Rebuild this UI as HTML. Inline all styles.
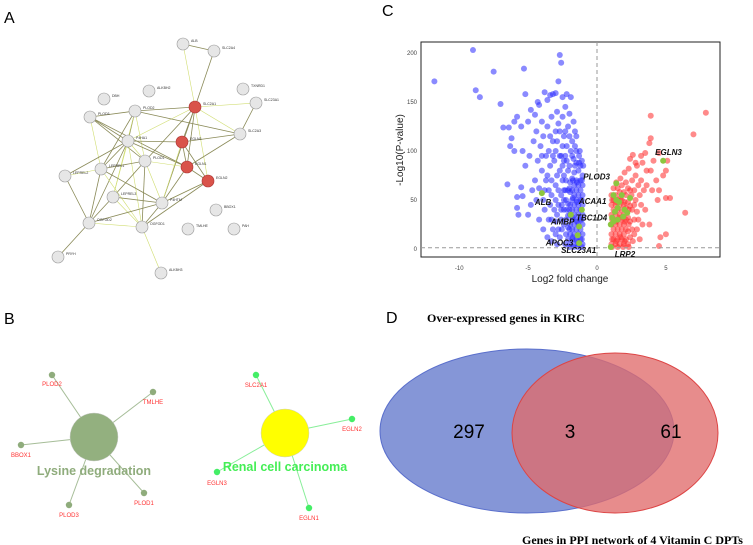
<!DOCTYPE html>
<html><head><meta charset="utf-8">
<style>
html,body{margin:0;padding:0;background:#fff;}
svg{display:block;font-family:"Liberation Sans",sans-serif;}
</style></head>
<body>
<svg id="fig" width="753" height="545" viewBox="0 0 753 545">
<rect width="753" height="545" fill="#fff"/>
<text x="4" y="23" font-size="16">A</text>
<text x="4" y="324" font-size="16">B</text>
<text x="382" y="16" font-size="16">C</text>
<text x="386" y="323" font-size="16">D</text>
<g id="net"></g>
<g id="enrich"></g>
<g id="volcano"></g>
<g id="venn">
  <ellipse cx="527" cy="431" rx="147" ry="82" fill="#7084d0" fill-opacity="0.85" stroke="#5a6fcc"/>
  <ellipse cx="615" cy="433" rx="103" ry="80" fill="#e06b6b" fill-opacity="0.78" stroke="#d44"/>
  <text x="469" y="438" font-size="19" text-anchor="middle">297</text>
  <text x="570" y="438" font-size="19" text-anchor="middle">3</text>
  <text x="671" y="438" font-size="19" text-anchor="middle">61</text>
  <text x="427" y="322" font-size="12" font-weight="bold" font-family="Liberation Serif,serif">Over-expressed genes in KIRC</text>
  <text x="522" y="544" font-size="12" font-weight="bold" font-family="Liberation Serif,serif">Genes in PPI network of 4 Vitamin C DPTs</text>
</g>
</svg>
<script>
const NS="http://www.w3.org/2000/svg";
function mk(tag,attrs,parent){const e=document.createElementNS(NS,tag);for(const k in attrs)e.setAttribute(k,attrs[k]);parent.appendChild(e);return e;}

/* ---------- Panel A: PPI network ---------- */
const netNodes=[
["ALB",183,44,0],["SLC2A4",214,51,0],["TXNRD1",243,89,0],["SLC23A1",256,103,0],["DBH",104,99,0],["ALKBH2",149,91,0],
["PLOD2",135,111,0],["PLOD3",90,117,0],["SLC2A1",195,107,1],["SLC2A3",240,134,0],["P4HA1",128,141,0],["EGLN3",182,142,1],
["PLOD1",145,161,0],["EGLN1",187,167,1],["EGLN2",208,181,1],["LEPREL2",65,176,0],["LEPREL1",101,169,0],["LEPREL3",113,197,0],
["P4HTM",162,203,0],["BBOX1",216,210,0],["OGFOD2",89,223,0],["OGFOD1",142,227,0],["TMLHE",188,229,0],["PAH",234,229,0],
["PRYH",58,257,0],["ALKBH3",161,273,0]];
const netEdges=[["ALB","SLC2A1"],["ALB","SLC2A4"],["SLC2A4","SLC2A1"],["SLC2A1","SLC23A1"],["SLC23A1","SLC2A3"],["SLC2A1","PLOD2"],
["SLC2A1","P4HA1"],["SLC2A1","EGLN3"],["SLC2A1","EGLN1"],["SLC2A1","EGLN2"],["SLC2A1","PLOD1"],["SLC2A1","P4HTM"],["SLC2A1","SLC2A3"],
["PLOD2","PLOD3"],["PLOD2","P4HA1"],["PLOD2","PLOD1"],["PLOD2","SLC2A3"],["PLOD2","LEPREL1"],["PLOD2","LEPREL3"],["PLOD3","P4HA1"],
["PLOD3","PLOD1"],["PLOD3","LEPREL1"],["PLOD3","EGLN1"],["P4HA1","EGLN3"],["P4HA1","PLOD1"],["P4HA1","LEPREL2"],["P4HA1","LEPREL1"],
["P4HA1","LEPREL3"],["P4HA1","OGFOD2"],["P4HA1","EGLN1"],["P4HA1","OGFOD1"],["EGLN3","EGLN1"],["EGLN3","EGLN2"],["EGLN3","P4HTM"],
["EGLN3","SLC2A3"],["EGLN1","EGLN2"],["EGLN1","PLOD1"],["EGLN1","SLC2A3"],["EGLN1","P4HTM"],["EGLN2","P4HTM"],["EGLN2","OGFOD1"],
["PLOD1","LEPREL1"],["PLOD1","P4HTM"],["PLOD1","OGFOD1"],["PLOD1","LEPREL3"],["LEPREL2","LEPREL1"],["LEPREL2","OGFOD2"],
["LEPREL1","OGFOD2"],["LEPREL1","OGFOD1"],["LEPREL1","P4HTM"],["LEPREL3","OGFOD2"],["LEPREL3","OGFOD1"],["LEPREL3","P4HTM"],
["OGFOD2","P4HTM"],["OGFOD2","OGFOD1"],["OGFOD2","PRYH"],["OGFOD1","P4HTM"],["OGFOD1","ALKBH3"],["P4HTM","EGLN2"]];
const netG=document.getElementById('net');
const nodeMap={};netNodes.forEach(n=>nodeMap[n[0]]=n);
netEdges.forEach((e,i)=>{const a=nodeMap[e[0]],b=nodeMap[e[1]];
 const l=mk('line',{x1:a[1],y1:a[2],x2:b[1],y2:b[2],stroke:i%3===0?'#d0dd70':'#8a8a58','stroke-width':i%3===0?0.6:0.8},netG);
 
 });
netNodes.forEach(n=>{
 const c=mk('circle',{cx:n[1],cy:n[2],r:6,fill:n[3]?'#d9534a':'#e6e6e6',stroke:n[3]?'#a33':'#999','stroke-width':0.6},netG);
 
 
 const t=mk('text',{x:n[1]+8,y:n[2]-2,'font-size':3.5,fill:'#333'},netG);t.textContent=n[0];
 
 });

/* ---------- Panel B: enrichment networks ---------- */
const enrG=document.getElementById('enrich');
const hubs=[["Lysine degradation",94,437,'#93b07f','#8fac7c',94,475],["Renal cell carcinoma",285,433,'#ffff00','#44ee55',285,471]];
const leaves=[[0,"PLOD2",52,375,52,386],[0,"TMLHE",153,392,153,404],[0,"BBOX1",21,445,21,457],[0,"PLOD3",69,505,69,517],[0,"PLOD1",144,493,144,505],
[1,"SLC2A1",256,375,256,387],[1,"EGLN2",352,419,352,431],[1,"EGLN3",217,472,217,485],[1,"EGLN1",309,508,309,520]];
leaves.forEach(l=>{const h=hubs[l[0]];
 const ln=mk('line',{x1:h[1],y1:h[2],x2:l[2],y2:l[3],stroke:l[0]?'#88ee99':'#a6bd98','stroke-width':1},enrG);
 
 });
hubs.forEach(h=>{const c=mk('circle',{cx:h[1],cy:h[2],r:24,fill:h[3],stroke:'#ccc','stroke-width':0.5},enrG);
 
 });
leaves.forEach(l=>{const c=mk('circle',{cx:l[2],cy:l[3],r:3.2,fill:l[0]?'#44ee66':'#8fac7c'},enrG);
 
 
 const t=mk('text',{x:l[4],y:l[5],'font-size':6,fill:'#ff3333','text-anchor':'middle'},enrG);t.textContent=l[1];
 
 });
hubs.forEach(h=>{const t=mk('text',{x:h[5],y:h[6],'font-size':12.5,'font-weight':'bold',fill:h[4],'text-anchor':'middle'},enrG);t.textContent=h[0];
 
 });

/* ---------- Panel C: volcano ---------- */
const xTicks=[-10,-5,0,5];
const yTicks=[0,50,100,150,200];
const bluePoints=[[-11.8,171],[-9,203],[-8.8,162],[-8.5,155],[-7.5,181],[-7,148],[-6.8,124],[-6.4,124],[-6.2,113],[-6,130],[-6,100],[-5.8,135],[-5.5,125],[-5.3,184],[-5.2,158],[-5.2,85],[-5.5,63],[-6.5,66],[-5.8,53],[-5.8,42],[-5.7,35],[-5.4,54],[-5,130],[-4.8,142],[-4.5,137],[-4.3,150],[-4.2,147],[-4,130],[-3.8,160],[-3.6,152],[-3.4,157],[-3.2,158],[-3,159],[-2.8,171],[-2.7,198],[-2.6,190],[-2.5,155],[-2.2,158],[-1.9,155],[-1.6,120],[-4.6,110],[-4.9,95],[-5.4,100],[-6.3,105],[-4.3,90],[-4,80],[-4.5,70],[-3.8,60],[-3.5,100],[-3.2,110],[-3,120],[-2.8,128],[-2.5,135],[-2.4,115],[-2.1,125],[-1.8,110],[-1.5,100],[-4.8,45],[-4.4,50],[-3.5,30],[-3.8,40],[-3.2,20],[-3,15],[-2.8,45],[-3.6,75],[-3.1,90],[-2.6,95],[-2.2,105],[-1.8,95],[-4.1,105],[-3.9,115],[-3.3,135],[-2.9,140],[-2.3,145],[-2,138],[-1.7,130],[-3.4,85],[-3.7,95],[-4.2,62],[-3.3,55],[-3.0,65],[-2.7,80],[-2.5,70],[-2.4,25],[-2.7,12],[-3.4,45],[-2.9,35],[-2.6,55],
[-4.4,120],[-4.0,95],[-3.6,125],[-3.4,115],[-3.2,95],[-3.0,100],[-2.9,110],[-2.7,120],[-2.5,105],[-2.3,120],[-2.2,90],[-2.0,115],[-1.9,100],[-1.7,92],[-1.5,115],[-3.9,50],[-3.7,70],[-3.5,60],[-3.3,70],[-3.1,40],[-3.0,50],[-2.9,75],[-2.8,60],[-2.7,95],[-2.6,30],[-2.5,85],[-2.4,50],[-2.3,95],[-3.3,30],[-3.0,28],[-2.8,20],[-4.7,60],[-5.0,35],[-4.2,30],[-3.9,20],[-3.6,12],[-3.3,8],[-2.9,5],[-2.6,40],[-2.4,75],[-2.2,40],
[-1.05,5],[-1.05,15],[-1.05,25],[-1.05,35],[-1.05,45],[-1.05,55],[-1.05,65],[-1.05,75],[-1.2,10],[-1.2,20],[-1.2,30],[-1.2,40],[-1.2,50],[-1.2,60],[-1.2,70],[-1.2,85],[-1.35,5],[-1.35,15],[-1.35,25],[-1.35,35],[-1.35,45],[-1.35,55],[-1.35,65],[-1.35,80],[-1.5,10],[-1.5,20],[-1.5,30],[-1.5,40],[-1.5,50],[-1.5,60],[-1.5,70],[-1.5,88],[-1.65,5],[-1.65,15],[-1.65,25],[-1.65,35],[-1.65,45],[-1.65,55],[-1.65,65],[-1.65,78],[-1.8,10],[-1.8,20],[-1.8,30],[-1.8,40],[-1.8,50],[-1.8,60],[-1.8,72],[-1.95,5],[-1.95,15],[-1.95,25],[-1.95,35],[-1.95,45],[-1.95,58],[-1.95,68],[-2.1,10],[-2.1,22],[-2.1,34],[-2.1,46],[-2.1,60],[-2.1,80],[-2.25,15],[-2.25,30],[-2.25,50],[-2.25,70],[-2.4,40],[-2.4,60],[-2.4,90],[-2.55,20],[-2.55,45],[-1.1,90],[-1.3,95],[-1.1,2],[-1.4,2],[-1.7,2],[-2.0,2],[-1.25,100],[-1.6,105],[-2.0,85],
[-1.1,10],[-1.1,30],[-1.1,50],[-1.1,70],[-1.45,8],[-1.45,28],[-1.45,48],[-1.45,68],[-1.75,12],[-1.75,32],[-1.75,52],[-1.75,70],[-2.0,20],[-2.0,40],[-2.0,62],[-2.3,5],[-2.3,60],[-1.3,88],[-1.6,85],[-1.0,85]];
const redPoints=[[7.9,139],[7,117],[3.9,136],[3.9,113],[3.8,108],[3.5,98],[3.2,95],[2.6,96],[2.4,92],[4.5,98],[5.1,90],[5,80],[4.8,75],[4.3,70],[4.5,60],[4.4,50],[5,52],[5.3,52],[6.4,37],[4.6,12],[5,15],[4.5,3],[3.6,80],[3.2,70],[4,60],[2.9,85],[3.5,40],[3,30],[2.8,75],[3.1,55],[2.7,45],[3.3,88],[2.9,20],[3.8,25],
[3.4,60],[3.0,65],[2.8,50],[3.2,45],[2.9,38],[2.7,15],[3.1,10],[2.8,88],[3.6,65],[3.9,80],[4.1,90],[3.3,25],
[1.05,5],[1.05,15],[1.05,25],[1.05,35],[1.05,45],[1.05,55],[1.2,10],[1.2,20],[1.2,30],[1.2,40],[1.2,50],[1.2,62],[1.35,5],[1.35,15],[1.35,25],[1.35,35],[1.35,45],[1.35,55],[1.5,10],[1.5,20],[1.5,30],[1.5,40],[1.5,50],[1.5,62],[1.65,5],[1.65,15],[1.65,25],[1.65,35],[1.65,45],[1.65,58],[1.8,10],[1.8,20],[1.8,30],[1.8,40],[1.8,50],[1.8,65],[1.95,5],[1.95,15],[1.95,25],[1.95,35],[1.95,45],[1.95,58],[2.1,10],[2.1,20],[2.1,30],[2.1,42],[2.1,55],[2.1,68],[2.25,5],[2.25,18],[2.25,32],[2.25,48],[2.25,62],[2.4,12],[2.4,28],[2.4,44],[2.4,60],[2.55,20],[2.55,40],[2.55,70],[2.7,30],[2.7,60],[2.0,78],[1.7,72],[1.4,68],[2.3,82],[1.1,2],[1.5,2],[1.9,2],[2.3,2],
[1.1,10],[1.1,30],[1.1,50],[1.4,8],[1.4,28],[1.4,48],[1.7,12],[1.7,32],[1.7,52],[2.0,8],[2.0,28],[2.0,48],[2.3,25],[2.3,40],[2.5,55],[2.6,8]];
const greenPoints=[[-4,57],[-1.1,40],[-1.9,35],[-1.3,23],[-1.4,14],[-1.3,6],[1.0,2],[1.4,67],[4.8,90],[1.2,55],[1.4,50],[1.6,48],[1.8,55],[2.4,52],[1.5,42],[2.0,40],[2.2,37],[1.3,38],[1.1,32],[1.5,30],[1.9,33],[1.0,25],[1.2,28]];
const geneLabels=[["ALB",-4,57,-7,12],["ACAA1",-1.1,40,-3,-6],["AMBP",-1.9,35,-20,10],["TBC1D4",-1.3,23,-3,-6],["APOC3",-1.4,14,-32,10],["SLC23A1",-1.3,6,-18,10],["LRP2",1.0,2,4,10],["PLOD3",1.4,67,-33,-4],["EGLN3",4.8,90,-8,-6]];
const vx=v=>597+v*13.78, vy=v=>249-v*0.98;
const vG=document.getElementById('volcano');
const frame=mk('rect',{x:421,y:42,width:299,height:215,fill:'#fff',stroke:'#222','stroke-width':1},vG);


bluePoints.forEach(p=>{const c=mk('circle',{cx:vx(p[0]),cy:vy(p[1]),r:3,fill:'#2a2aff','fill-opacity':0.55},vG);
 
 });
redPoints.forEach(p=>{const c=mk('circle',{cx:vx(p[0]),cy:vy(p[1]),r:3,fill:'#ff2a2a','fill-opacity':0.55},vG);
 
 });
const vl=mk('line',{x1:vx(0),x2:vx(0),y1:42,y2:257,stroke:'#999','stroke-dasharray':'4,3'},vG);


const hl=mk('line',{x1:421,x2:720,y1:vy(1.3),y2:vy(1.3),stroke:'#999','stroke-dasharray':'4,3'},vG);


greenPoints.forEach(p=>{const c=mk('circle',{cx:vx(p[0]),cy:vy(p[1]),r:3,fill:'#8dc63f'},vG);
 
 });
geneLabels.forEach(g=>{const t=mk('text',{x:vx(g[1])+g[3],y:vy(g[2])+g[4],'font-size':8,'font-weight':'bold','font-style':'italic',fill:'#111'},vG);t.textContent=g[0];
 
 });
xTicks.forEach(v=>{const t=mk('text',{x:vx(v),y:270,'font-size':6,fill:'#444','text-anchor':'middle'},vG);t.textContent=v;
 
 });
yTicks.forEach(v=>{const t=mk('text',{x:417,y:vy(v)+2,'font-size':6,fill:'#444','text-anchor':'end'},vG);t.textContent=v;
 
 });
const xt=mk('text',{x:570,y:282,'font-size':10,fill:'#222','text-anchor':'middle'},vG);xt.textContent='Log2 fold change';


const yt=mk('text',{x:403,y:150,'font-size':10,fill:'#222','text-anchor':'middle',transform:'rotate(-90 403 150)'},vG);yt.textContent='-Log10(P-value)';


</script>
</body></html>
